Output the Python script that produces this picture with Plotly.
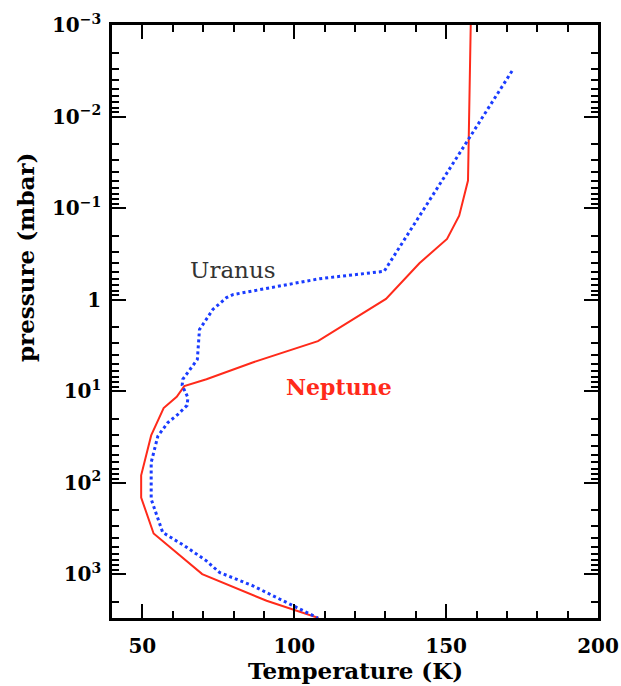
import plotly.graph_objects as go
import numpy as np

# Neptune temperature profile (solid red)
neptune_T = [158.1, 157.2, 154.3, 150.3, 141.2, 130.2, 107.8, 86.3, 71.1, 63.8,
             61.3, 57.0, 52.9, 49.6, 49.6, 53.7, 69.7, 90.9, 108.0]
neptune_P = [0.001, 0.05, 0.121, 0.217, 0.40, 0.98, 2.84, 4.85, 7.4, 8.8,
             11.5, 15.3, 30.4, 82.8, 145, 358, 995, 1945, 3000]

# Uranus temperature profile (dotted blue)
uranus_T = [171.7, 129.6, 108.4, 96.3, 79.8, 77.7, 73.2, 68.8, 68.5, 68.1, 65.5,
            63.3, 63.1, 65.0, 64.7, 61.7, 58.4, 55.1, 52.9, 52.9, 56.7, 63.9,
            71.1, 75.4, 86.4, 99.6, 107.8]
uranus_P = [0.00318, 0.49, 0.59, 0.70, 0.88, 0.95, 1.28, 2.12, 2.72, 4.5, 5.9,
            7.4, 8.6, 11.8, 14.3, 17.9, 22, 30.9, 60, 151, 349, 489,
            713, 955, 1335, 2200, 3000]

# Axis ticks
x_tickvals = [50, 100, 150, 200]
x_minorvals = [40, 60, 70, 80, 90, 110, 120, 130, 140, 160, 170, 180, 190]
y_tickvals = [0.001, 0.01, 0.1, 1, 10, 100, 1000]
y_ticktext = ["10<sup>\u22123</sup>", "10<sup>\u22122</sup>", "10<sup>\u22121</sup>",
              "1", "10<sup>1</sup>", "10<sup>2</sup>", "10<sup>3</sup>"]
y_minorvals = [m * 10.0 ** e for e in range(-3, 4) for m in range(2, 10)]

FONT = "DejaVu Serif"

W, H = 621, 686
L, R, T, B = 112, 23, 25, 68
PW, PH = W - L - R, H - T - B

fig = go.Figure()
fig.add_trace(go.Scatter(x=neptune_T, y=neptune_P, mode="lines",
                         line=dict(color="#ff2a1a", width=2), showlegend=False))
fig.add_trace(go.Scatter(x=uranus_T, y=uranus_P, mode="lines",
                         line=dict(color="#1a3cff", width=3, dash="dot"), showlegend=False))

fig.add_annotation(x=79.7, y=np.log10(0.47), text="Uranus", showarrow=False,
                   font=dict(family=FONT, size=23, color="#333333"))
fig.add_annotation(x=114.7, y=np.log10(8.9), text="<b>Neptune</b>", showarrow=False,
                   font=dict(family=FONT, size=22, color="#ff2a1a"))

# axis titles as paper annotations
fig.add_annotation(xref="paper", yref="paper", x=(355 - L) / PW, y=-(670 - (H - B)) / PH,
                   text="<b>Temperature (K)</b>", showarrow=False,
                   xanchor="center", yanchor="middle",
                   font=dict(family=FONT, size=23, color="black"))
fig.add_annotation(xref="paper", yref="paper", x=-(L - 25) / PW, y=((H - B) - 258) / PH,
                   text="<b>pressure (mbar)</b>", showarrow=False, textangle=-90,
                   xanchor="center", yanchor="middle",
                   font=dict(family=FONT, size=23, color="black"))

tickfont = dict(family=FONT, size=20, color="black", weight="bold")

fig.update_layout(
    width=W, height=H,
    margin=dict(l=L, r=R, t=T, b=B),
    paper_bgcolor="white", plot_bgcolor="white",
    font=dict(family=FONT, color="black"),
    xaxis=dict(
        range=[40, 200], showgrid=False, zeroline=False, automargin=False,
        showline=True, linecolor="black", linewidth=2.5, mirror="allticks",
        ticks="inside", ticklen=14, tickwidth=2, tickcolor="black",
        tickmode="array", tickvals=x_tickvals,
        tickfont=tickfont, ticklabelstandoff=8,
        minor=dict(tickmode="array", tickvals=x_minorvals, ticks="inside",
                   ticklen=7, tickwidth=2, tickcolor="black", showgrid=False),
    ),
    yaxis=dict(
        type="log", range=[np.log10(3000), -3], showgrid=False, zeroline=False,
        automargin=False,
        showline=True, linecolor="black", linewidth=2.5, mirror="allticks",
        ticks="inside", ticklen=14, tickwidth=2, tickcolor="black",
        tickmode="array", tickvals=y_tickvals, ticktext=y_ticktext,
        tickfont=tickfont, ticklabelstandoff=4,
        minor=dict(tickmode="array", tickvals=y_minorvals, ticks="inside",
                   ticklen=7, tickwidth=2, tickcolor="black", showgrid=False),
    ),
)

fig.write_html("out.html", config={"displayModeBar": False},
               post_script="document.body.style.margin='0';document.body.style.overflow='hidden';")
